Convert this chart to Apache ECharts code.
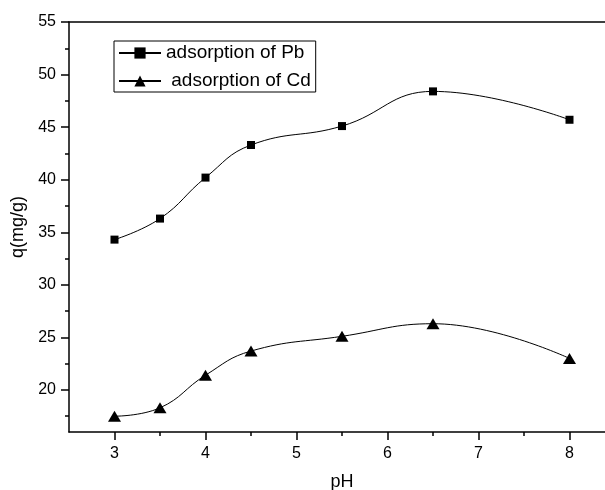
<!DOCTYPE html>
<html>
<head>
<meta charset="utf-8">
<script src="https://cdn.jsdelivr.net/npm/echarts@6/dist/echarts.min.js"></script>
<style>
html,body{margin:0;padding:0;background:#fff;}
#chart{width:605px;height:490px;}
</style>
</head>
<body>
<div id="chart"></div>
<script>
// ---- data ----
const pH = [3, 3.5, 4, 4.5, 5.5, 6.5, 8];
const qPb = [34.3, 36.3, 40.2, 43.3, 45.1, 48.4, 45.7];
const qCd = [17.5, 18.3, 21.4, 23.7, 25.1, 26.3, 23.0];
const xMajorTicks = [3, 4, 5, 6, 7, 8];
const xMinorTicks = [3.5, 4.5, 5.5, 6.5, 7.5];
const yMajorTicks = [20, 25, 30, 35, 40, 45, 50, 55];
const yMinorTicks = [17.5, 22.5, 27.5, 32.5, 37.5, 42.5, 47.5, 52.5];
const seriesNames = ['adsorption of Pb', 'adsorption of Cd'];
const xTitle = 'pH';
const yTitle = 'q(mg/g)';
const xMin = 2.5, xMax = 8.5;
const yMin = 16, yMax = 55;

const FONT = '"Liberation Sans", Arial, sans-serif';
const chart = echarts.init(document.getElementById('chart'));

const axisLineStyle = { color: '#000', width: 1.5 };

chart.setOption({
  animation: false,
  backgroundColor: '#fff',
  textStyle: { fontFamily: FONT, color: '#000' },
  // the right end of the original frame lies outside the picture
  grid: { left: 69, top: 22, right: -10, bottom: 58, containLabel: false, outerBoundsMode: 'none' },
  legend: {
    orient: 'vertical',
    left: 114,
    top: 41,
    padding: [2, 5, 1, 4],
    itemGap: 8,
    itemWidth: 42,
    itemHeight: 14,
    borderColor: '#000',
    borderWidth: 1,
    textStyle: { fontFamily: FONT, fontSize: 19, color: '#000', lineHeight: 20 },
    formatter: function (n) { return n === seriesNames[1] ? ' ' + n : n; },
    data: seriesNames
  },
  xAxis: [
    {
      type: 'value', min: xMin, max: xMax, position: 'bottom',
      name: xTitle, nameLocation: 'middle', nameGap: 41,
      nameTextStyle: { fontFamily: FONT, fontSize: 18, color: '#000' },
      axisLine: { show: true, onZero: false, lineStyle: axisLineStyle },
      axisTick: { show: true, length: 8, inside: false, customValues: xMajorTicks, lineStyle: { color: '#000', width: 1.5 } },
      axisLabel: { show: true, margin: 14, fontSize: 16, color: '#000', fontFamily: FONT, customValues: xMajorTicks },
      splitLine: { show: false }
    },
    {
      type: 'value', min: xMin, max: xMax, position: 'bottom',
      axisLine: { show: false, onZero: false },
      axisTick: { show: true, length: 4, customValues: xMinorTicks, lineStyle: { color: '#000', width: 1.5 } },
      axisLabel: { show: false },
      splitLine: { show: false }
    },
    {
      type: 'value', min: xMin, max: xMax, position: 'top',
      axisLine: { show: true, onZero: false, lineStyle: axisLineStyle },
      axisTick: { show: false },
      axisLabel: { show: false },
      splitLine: { show: false }
    }
  ],
  yAxis: [
    {
      type: 'value', min: yMin, max: yMax, position: 'left',
      name: yTitle, nameLocation: 'middle', nameGap: 38, nameRotate: 90,
      nameTextStyle: { fontFamily: FONT, fontSize: 18, color: '#000' },
      axisLine: { show: true, onZero: false, lineStyle: axisLineStyle },
      axisTick: { show: true, length: 8, customValues: yMajorTicks, lineStyle: { color: '#000', width: 1.5 } },
      axisLabel: { show: true, margin: 13, fontSize: 16, color: '#000', fontFamily: FONT, customValues: yMajorTicks },
      splitLine: { show: false }
    },
    {
      type: 'value', min: yMin, max: yMax, position: 'left',
      axisLine: { show: false, onZero: false },
      axisTick: { show: true, length: 4, customValues: yMinorTicks, lineStyle: { color: '#000', width: 1.5 } },
      axisLabel: { show: false },
      splitLine: { show: false }
    }
  ],
  series: [
    {
      name: seriesNames[0], type: 'line', xAxisIndex: 0, yAxisIndex: 0,
      data: pH.map((x, i) => [x, qPb[i]]),
      smooth: 0.45,
      symbol: 'rect', symbolSize: 8,
      lineStyle: { color: '#000', width: 1 },
      itemStyle: { color: '#000' }
    },
    {
      name: seriesNames[1], type: 'line', xAxisIndex: 0, yAxisIndex: 0,
      data: pH.map((x, i) => [x, qCd[i]]),
      smooth: 0.45,
      symbol: 'triangle', symbolSize: [13, 11],
      lineStyle: { color: '#000', width: 1 },
      itemStyle: { color: '#000' }
    }
  ]
});
</script>
</body>
</html>
